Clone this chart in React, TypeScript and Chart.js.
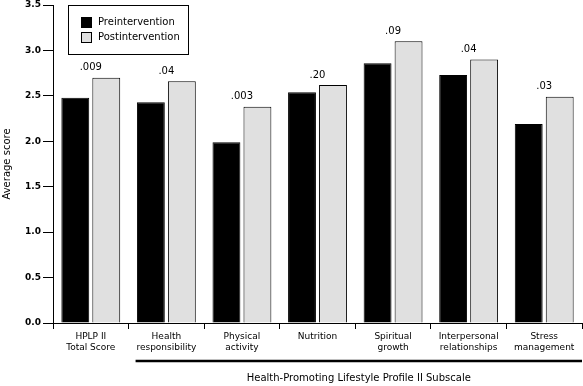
import React, { useEffect, useRef } from "react";
import { Chart, registerables } from "chart.js";

Chart.register(...registerables);

const categories: string[][] = [
  ["HPLP II", "Total Score"],
  ["Health", "responsibility"],
  ["Physical", "activity"],
  ["Nutrition"],
  ["Spiritual", "growth"],
  ["Interpersonal", "relationships"],
  ["Stress", "management"],
];
const preValues = [2.48, 2.43, 1.99, 2.54, 2.86, 2.73, 2.19];
const postValues = [2.7, 2.66, 2.38, 2.62, 3.1, 2.9, 2.49];
const pValues = [".009", ".04", ".003", ".20", ".09", ".04", ".03"];
const yTicks = [0, 0.5, 1, 1.5, 2, 2.5, 3, 3.5];
const seriesNames = ["Preintervention", "Postintervention"];
const xTitle = "Health-Promoting Lifestyle Profile II Subscale";
const yTitle = "Average score";

const FONT = "'DejaVu Sans', Verdana, sans-serif";

const overlayPlugin = {
  id: "overlay",
  afterDraw(chart: any) {
    const ctx = chart.ctx as CanvasRenderingContext2D;
    const x = chart.scales.x;
    const y = chart.scales.y;
    ctx.save();
    // p-values
    ctx.fillStyle = "#000";
    ctx.font = `10px ${FONT}`;
    ctx.textAlign = "center";
    ctx.textBaseline = "middle";
    pValues.forEach((p, i) => {
      const top = y.getPixelForValue(Math.max(preValues[i], postValues[i]));
      ctx.fillText(p, x.getPixelForValue(i), top - 10);
    });
    // bracket line
    const catW = (x.right - x.left) / categories.length;
    const bx0 = x.left + catW + 7;
    const bx1 = x.right;
    ctx.strokeStyle = "#000";
    ctx.lineWidth = 2.5;
    ctx.beginPath();
    ctx.moveTo(bx0, 361);
    ctx.lineTo(bx1, 361);
    ctx.stroke();
    ctx.font = `10px ${FONT}`;
    ctx.fillText(xTitle, (bx0 + bx1) / 2, 378);
    // legend
    const lx = 68.5, ly = 5.5, lw = 120, lh = 49;
    ctx.fillStyle = "#fff";
    ctx.fillRect(lx, ly, lw, lh);
    ctx.lineWidth = 1;
    ctx.strokeRect(lx, ly, lw, lh);
    const colors = ["#000000", "#e0e0e0"];
    seriesNames.forEach((name, i) => {
      const cy = 22 + i * 15;
      ctx.fillStyle = colors[i];
      ctx.fillRect(81, cy - 5, 11, 11);
      ctx.strokeStyle = "#000";
      ctx.strokeRect(81.5, cy - 4.5, 10, 10);
      ctx.fillStyle = "#000";
      ctx.textAlign = "left";
      ctx.fillText(name, 98, cy + 0.5);
    });
    ctx.restore();
  },
};

export default function App() {
  const ref = useRef<HTMLCanvasElement | null>(null);
  useEffect(() => {
    if (!ref.current) return;
    const chart = new Chart(ref.current, {
      type: "bar",
      data: {
        labels: categories,
        datasets: [
          {
            label: seriesNames[0],
            data: preValues,
            backgroundColor: "#000000",
            borderColor: "#000000",
            borderWidth: 1,
            categoryPercentage: 0.82,
            barPercentage: 0.9,
          },
          {
            label: seriesNames[1],
            data: postValues,
            backgroundColor: "#e0e0e0",
            borderColor: "#000000",
            borderWidth: 1,
            categoryPercentage: 0.82,
            barPercentage: 0.9,
          },
        ],
      },
      options: {
        responsive: false,
        animation: false,
        layout: { padding: { top: 5, right: 1, left: 0, bottom: 0 } },
        plugins: {
          legend: { display: false },
          tooltip: { enabled: false },
        },
        scales: {
          x: {
            grid: {
              display: true,
              drawOnChartArea: false,
              drawTicks: true,
              tickLength: 6,
              color: "#000",
              offset: true,
            },
            border: { display: true, color: "#000", width: 1 },
            ticks: {
              color: "#000",
              font: { family: FONT, size: 9 },
              maxRotation: 0,
              autoSkip: false,
              padding: 2,
            },
            afterFit: (s: any) => {
              s.height = 63;
              s.paddingLeft = 0;
              s.paddingRight = 0;
            },
          },
          y: {
            min: 0,
            max: 3.5,
            afterBuildTicks: (s: any) => {
              s.ticks = yTicks.map((v) => ({ value: v }));
            },
            grid: {
              display: true,
              drawOnChartArea: false,
              drawTicks: true,
              tickLength: 10,
              color: "#000",
            },
            border: { display: true, color: "#000", width: 1 },
            ticks: {
              color: "#000",
              font: { family: FONT, size: 9, weight: "bold" },
              padding: 2,
              callback: (v: any) => Number(v).toFixed(1),
            },
            title: {
              display: true,
              text: yTitle,
              color: "#000",
              font: { family: FONT, size: 10 },
              padding: { top: 1, bottom: 0 },
            },
            afterFit: (s: any) => {
              s.width = 53;
              s.paddingTop = 0;
              s.paddingBottom = 0;
            },
          },
        },
      },
      plugins: [overlayPlugin],
    });
    return () => chart.destroy();
  }, []);
  return (
    <div style={{ position: "absolute", left: 0, top: 0, width: 583, height: 386, background: "#fff" }}>
      <canvas ref={ref} width={583} height={386} style={{ display: "block" }} />
    </div>
  );
}
